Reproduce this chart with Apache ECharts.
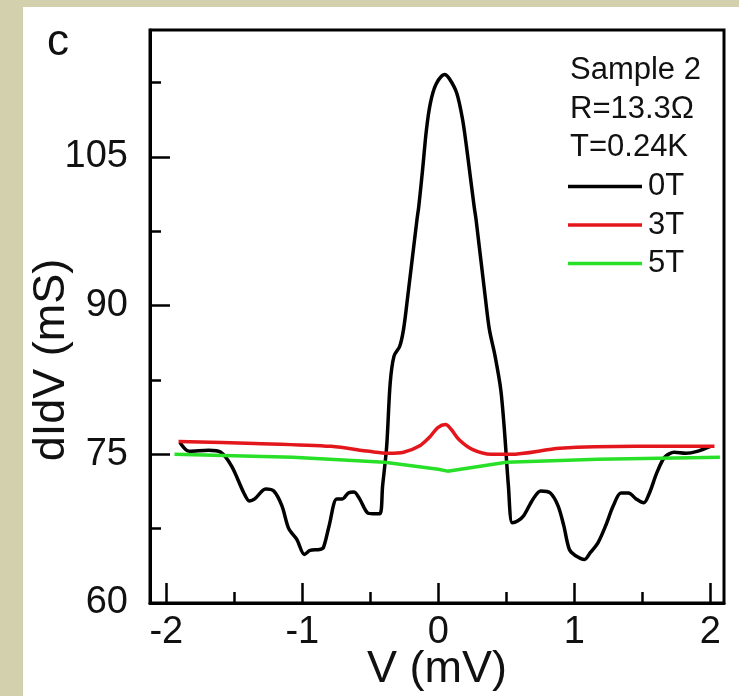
<!DOCTYPE html>
<html><head><meta charset="utf-8">
<script src="https://cdn.jsdelivr.net/npm/echarts@6/dist/echarts.min.js"></script>
<style>
html,body{margin:0;padding:0;width:739px;height:696px;overflow:hidden;background:#d3d0ae;}
#panel{position:absolute;left:23px;top:7px;width:716px;height:689px;background:#ffffff;}
#chart{position:absolute;left:0;top:0;width:739px;height:696px;}
</style></head>
<body><div id="panel"></div><div id="chart"></div>
<script>
// ---- data ----
var xMajorTicks = [-2, -1, 0, 1, 2];
var xMinorTicks = [-1.5, -0.5, 0.5, 1.5];
var yMajorTicks = [60, 75, 90, 105];
var yMinorTicks = [67.5, 82.5, 97.5, 112.5];

var seriesNames = ['0T', '3T', '5T'];
var infoLines = ['Sample 2', 'R=13.3\u03A9', 'T=0.24K'];

var v0T = [-1.90,-1.83,-1.69,-1.60,-1.52,-1.43,-1.39,-1.35,-1.27,-1.21,-1.15,-1.10,-1.04,-0.985,-0.943,-0.873,-0.845,-0.803,-0.747,-0.705,-0.662,-0.62,-0.579,-0.522,-0.48,-0.43,-0.41,-0.38,-0.354,-0.326,-0.284,-0.256,-0.228,-0.157,-0.144,-0.116,-0.088,-0.059,-0.018,0.045,0.08,0.136,0.179,0.207,0.235,0.263,0.277,0.347,0.375,0.417,0.459,0.487,0.515,0.543,0.585,0.627,0.697,0.753,0.823,0.88,0.922,0.963,1.006,1.075,1.118,1.174,1.23,1.286,1.342,1.398,1.454,1.51,1.552,1.608,1.664,1.735,1.819,1.903,2.00];
var g0T = [76.2,75.3,75.4,75.2,73.8,71.1,70.3,70.5,71.5,71.3,69.8,67.5,66.4,64.9,65.3,65.4,65.6,67.8,70.5,70.5,71.1,71.2,70.5,69.1,69.0,69.0,71.8,75.8,82.2,84.9,85.9,87.6,90.6,98.7,100.0,103.7,107.7,110.4,112.3,113.3,112.9,111.4,108.7,106.0,103.0,100.0,98.7,90.6,87.6,84.9,81.5,77.2,71.8,68.1,68.3,68.8,70.5,71.3,71.1,69.8,67.8,65.4,64.8,64.4,65.1,66.1,67.8,69.8,71.1,71.1,70.5,70.1,71.1,73.2,74.7,75.2,75.1,75.3,75.8];

var v3T = [-1.91,-1.35,-0.788,-0.508,-0.368,-0.256,-0.144,-0.06,-0.004,0.053,0.095,0.151,0.249,0.389,0.529,0.894,1.454,2.03];
var g3T = [76.3,76.1,75.8,75.3,75.1,75.2,75.8,76.8,77.7,78.0,77.5,76.5,75.5,75.0,75.0,75.6,75.8,75.8];

var v5T = [-1.94,-1.07,-0.396,0,0.067,0.50,1.174,2.07];
var g5T = [75.0,74.7,74.2,73.5,73.3,74.2,74.5,74.7];

function zip(a, b) { return a.map(function (v, i) { return [v, b[i]]; }); }

var FONT = "'Liberation Sans', Arial, sans-serif";
var chart = echarts.init(document.getElementById('chart'), null, {renderer: 'canvas'});

function xAxisBase() {
  return {type: 'value', min: -2.12, max: 2.1, gridIndex: 0, position: 'bottom',
    splitLine: {show: false}, axisLine: {onZero: false}};
}
function yAxisBase() {
  return {type: 'value', min: 60, max: 117.8, gridIndex: 0, position: 'left',
    splitLine: {show: false}, axisLine: {onZero: false}};
}

var xMain = xAxisBase();
xMain.axisLine = {show: true, onZero: false, lineStyle: {color: '#000', width: 3}};
xMain.axisTick = {show: true, inside: true, length: 20, customValues: xMajorTicks, lineStyle: {color: '#000', width: 2.5}};
xMain.axisLabel = {show: true, customValues: xMajorTicks, fontSize: 38, color: '#111', fontFamily: FONT, margin: 11};
xMain.name = 'V (mV)';
xMain.nameLocation = 'middle';
xMain.nameGap = 44;
xMain.nameMoveOverlap = false;
xMain.nameTextStyle = {fontSize: 45, color: '#111', fontFamily: FONT};

var xMinor = xAxisBase();
xMinor.axisLine = {show: false, onZero: false};
xMinor.axisLabel = {show: false};
xMinor.axisTick = {show: true, inside: true, length: 11, customValues: xMinorTicks, lineStyle: {color: '#000', width: 2.5}};

var yMain = yAxisBase();
yMain.axisLine = {show: true, onZero: false, lineStyle: {color: '#000', width: 3}};
yMain.axisTick = {show: true, inside: true, length: 20, customValues: yMajorTicks, lineStyle: {color: '#000', width: 2.5}};
yMain.axisLabel = {show: true, customValues: yMajorTicks, fontSize: 38, color: '#111', fontFamily: FONT, margin: 22};

var yMinor = yAxisBase();
yMinor.axisLine = {show: false, onZero: false};
yMinor.axisLabel = {show: false};
yMinor.axisTick = {show: true, inside: true, length: 11, customValues: yMinorTicks, lineStyle: {color: '#000', width: 2.5}};

var colors = ['#000000', '#e3161c', '#27e027'];

var option = {
  animation: false,
  backgroundColor: 'transparent',
  grid: {left: 150, top: 30, right: 15, bottom: 93, show: true, containLabel: false, outerBoundsMode: 'none',
    borderColor: '#000', borderWidth: 3, backgroundColor: 'transparent'},
  xAxis: [xMain, xMinor],
  yAxis: [yMain, yMinor],
  legend: {
    data: seriesNames, orient: 'vertical', left: 568, top: 171, padding: 0,
    itemWidth: 74, itemHeight: 3.5, itemGap: 7.5, icon: 'rect',
    textStyle: {fontSize: 31, color: '#111', fontFamily: FONT, padding: [0, 0, 0, 1]}
  },
  graphic: [
    {type: 'text', x: 47, y: 43, style: {text: 'c', fontSize: 44, fill: '#111', fontFamily: FONT, align: 'left', verticalAlign: 'middle'}},
    {type: 'text', x: 570, y: 70, style: {text: infoLines[0], fontSize: 31, fill: '#111', fontFamily: FONT, align: 'left', verticalAlign: 'middle'}},
    {type: 'text', x: 570, y: 109, style: {text: infoLines[1], fontSize: 31, fill: '#111', fontFamily: FONT, align: 'left', verticalAlign: 'middle'}},
    {type: 'text', x: 570, y: 147, style: {text: infoLines[2], fontSize: 31, fill: '#111', fontFamily: FONT, align: 'left', verticalAlign: 'middle'}},
    {type: 'text', x: 52, y: 360, rotation: Math.PI / 2, style: {text: 'dIdV (mS)', fontSize: 45, fill: '#111', fontFamily: FONT, align: 'center', verticalAlign: 'middle'}}
  ],
  series: [
    {name: seriesNames[0], type: 'line', xAxisIndex: 0, yAxisIndex: 0, data: zip(v0T, g0T), showSymbol: false, smooth: 0.3, color: colors[0], lineStyle: {color: colors[0], width: 3.5}, z: 3},
    {name: seriesNames[1], type: 'line', xAxisIndex: 0, yAxisIndex: 0, data: zip(v3T, g3T), showSymbol: false, smooth: 0.3, color: colors[1], lineStyle: {color: colors[1], width: 3.5}, z: 4},
    {name: seriesNames[2], type: 'line', xAxisIndex: 0, yAxisIndex: 0, data: zip(v5T, g5T), showSymbol: false, smooth: false, color: colors[2], lineStyle: {color: colors[2], width: 3.5}, z: 5}
  ]
};
chart.setOption(option);
</script></body></html>
